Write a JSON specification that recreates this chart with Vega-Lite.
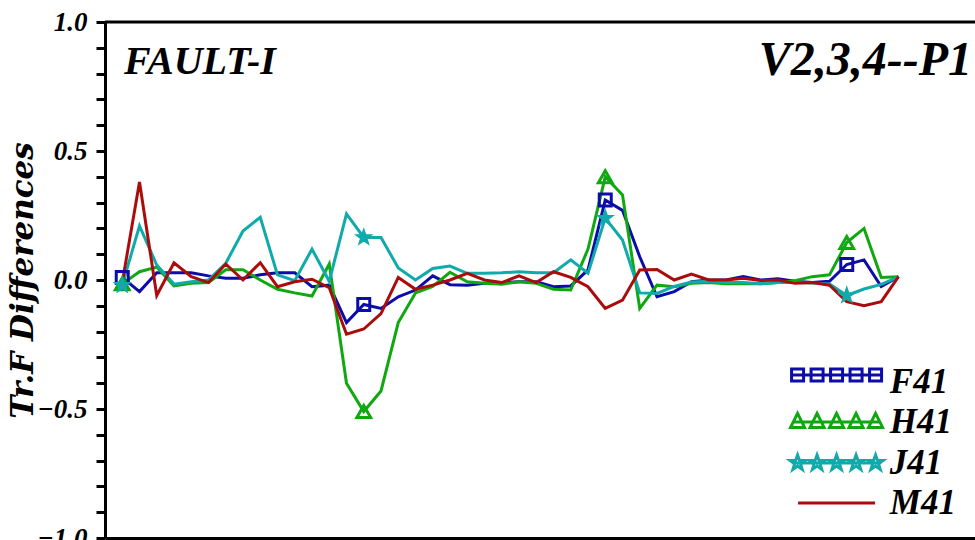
{
  "$schema": "https://vega.github.io/schema/vega-lite/v6.json",
  "width": 870,
  "height": 516,
  "autosize": {"type": "none"},
  "padding": {"left": 105, "top": 22, "right": 0, "bottom": 2},
  "background": "white",
  "config": {"view": {"stroke": null}},
  "datasets": {
    "d": [
      {"n": 1, "F41": 0.01, "H41": -0.015, "J41": -0.02, "M41": -0.01},
      {"n": 2, "F41": -0.045, "H41": 0.032, "J41": 0.21, "M41": 0.38},
      {"n": 3, "F41": 0.028, "H41": 0.05, "J41": 0.058, "M41": -0.06},
      {"n": 4, "F41": 0.028, "H41": -0.023, "J41": -0.016, "M41": 0.067},
      {"n": 5, "F41": 0.028, "H41": -0.013, "J41": -0.007, "M41": 0.013},
      {"n": 6, "F41": 0.016, "H41": -0.01, "J41": 0.0, "M41": -0.01},
      {"n": 7, "F41": 0.007, "H41": 0.04, "J41": 0.065, "M41": 0.062},
      {"n": 8, "F41": 0.007, "H41": 0.04, "J41": 0.19, "M41": 0.0},
      {"n": 9, "F41": 0.02, "H41": 0.0, "J41": 0.243, "M41": 0.067},
      {"n": 10, "F41": 0.028, "H41": -0.036, "J41": 0.02, "M41": -0.026},
      {"n": 11, "F41": 0.028, "H41": -0.05, "J41": -0.003, "M41": -0.007},
      {"n": 12, "F41": -0.026, "H41": -0.062, "J41": 0.12, "M41": 0.003},
      {"n": 13, "F41": -0.02, "H41": 0.062, "J41": -0.005, "M41": -0.03},
      {"n": 14, "F41": -0.165, "H41": -0.4, "J41": 0.256, "M41": -0.21},
      {"n": 15, "F41": -0.095, "H41": -0.51, "J41": 0.165, "M41": -0.19},
      {"n": 16, "F41": -0.11, "H41": -0.43, "J41": 0.165, "M41": -0.13},
      {"n": 17, "F41": -0.065, "H41": -0.165, "J41": 0.047, "M41": 0.01},
      {"n": 18, "F41": -0.039, "H41": -0.05, "J41": 0.0, "M41": -0.036},
      {"n": 19, "F41": 0.016, "H41": -0.025, "J41": 0.045, "M41": -0.02},
      {"n": 20, "F41": -0.018, "H41": 0.03, "J41": 0.054, "M41": 0.0},
      {"n": 21, "F41": -0.02, "H41": -0.007, "J41": 0.026, "M41": 0.026},
      {"n": 22, "F41": -0.013, "H41": -0.013, "J41": 0.026, "M41": 0.0},
      {"n": 23, "F41": -0.01, "H41": -0.016, "J41": 0.028, "M41": -0.01},
      {"n": 24, "F41": -0.007, "H41": -0.007, "J41": 0.032, "M41": 0.016},
      {"n": 25, "F41": -0.007, "H41": -0.013, "J41": 0.028, "M41": -0.01},
      {"n": 26, "F41": -0.026, "H41": -0.036, "J41": 0.028, "M41": 0.032},
      {"n": 27, "F41": -0.023, "H41": -0.039, "J41": 0.078, "M41": 0.01},
      {"n": 28, "F41": 0.039, "H41": 0.12, "J41": 0.026, "M41": -0.026},
      {"n": 29, "F41": 0.31, "H41": 0.4, "J41": 0.24, "M41": -0.11},
      {"n": 30, "F41": 0.27, "H41": 0.33, "J41": 0.155, "M41": -0.078},
      {"n": 31, "F41": 0.09, "H41": -0.11, "J41": -0.05, "M41": 0.039},
      {"n": 32, "F41": -0.065, "H41": -0.02, "J41": -0.052, "M41": 0.041},
      {"n": 33, "F41": -0.045, "H41": -0.026, "J41": -0.025, "M41": 0.0},
      {"n": 34, "F41": -0.007, "H41": -0.013, "J41": -0.008, "M41": 0.023},
      {"n": 35, "F41": 0.0, "H41": -0.01, "J41": -0.005, "M41": 0.0},
      {"n": 36, "F41": 0.0, "H41": -0.015, "J41": -0.01, "M41": 0.0},
      {"n": 37, "F41": 0.013, "H41": -0.015, "J41": -0.01, "M41": 0.007},
      {"n": 38, "F41": 0.0, "H41": -0.015, "J41": -0.015, "M41": -0.002},
      {"n": 39, "F41": 0.005, "H41": -0.01, "J41": -0.01, "M41": 0.0},
      {"n": 40, "F41": -0.005, "H41": -0.003, "J41": -0.01, "M41": -0.013},
      {"n": 41, "F41": -0.01, "H41": 0.013, "J41": -0.012, "M41": -0.01},
      {"n": 42, "F41": -0.005, "H41": 0.02, "J41": -0.015, "M41": -0.02},
      {"n": 43, "F41": 0.06, "H41": 0.145, "J41": -0.06, "M41": -0.084},
      {"n": 44, "F41": 0.078, "H41": 0.2, "J41": -0.035, "M41": -0.1},
      {"n": 45, "F41": -0.025, "H41": 0.01, "J41": -0.017, "M41": -0.084},
      {"n": 46, "F41": 0.013, "H41": 0.013, "J41": 0.012, "M41": 0.013}
    ]
  },
  "data": {"name": "d"},
  "layer": [
    {
      "data": {"values": [{}]},
      "mark": {"type": "rule", "strokeWidth": 3, "color": "black"},
      "encoding": {"y": {"datum": 1, "type": "quantitative", "scale": {"domain": [-1, 1], "nice": false}}}
    },
    {
      "transform": [{"fold": ["F41", "H41", "J41", "M41"], "as": ["series", "value"]}],
      "mark": {"type": "line", "strokeWidth": 3},
      "encoding": {
        "x": {
          "field": "n", "type": "quantitative",
          "scale": {"domain": [0, 50.435], "nice": false, "zero": false},
          "axis": {"domain": true, "domainWidth": 3, "domainColor": "black", "ticks": false, "labels": false, "grid": false, "title": null}
        },
        "y": {
          "field": "value", "type": "quantitative",
          "scale": {"domain": [-1, 1], "nice": false},
          "axis": {
            "tickCount": 20,
            "labelExpr": "abs(datum.value*2 - round(datum.value*2)) < 0.01 ? format(datum.value, '.1f') : ''",
            "grid": false,
            "domain": true, "domainWidth": 3, "domainColor": "black",
            "ticks": true, "tickWidth": 3, "tickColor": "black", "tickSize": 9,
            "labelFont": "Liberation Serif", "labelFontSize": 27, "labelFontWeight": "bold", "labelFontStyle": "italic",
            "labelColor": "black", "labelPadding": 9, "labelFlush": false, "labelOverlap": false,
            "title": "Tr.F   Differences",
            "titleFont": "DejaVu Serif", "titleFontSize": 31, "titleFontWeight": "bold", "titleFontStyle": "italic",
            "titleColor": "black", "titleX": -82, "titleY": 258, "titleAngle": 270, "titleAlign": "center", "titleBaseline": "middle"
          }
        },
        "color": {
          "field": "series", "type": "nominal",
          "scale": {"domain": ["F41", "H41", "J41", "M41"], "range": ["#0c0ca8", "#10a810", "#10aaaa", "#aa0c0c"]},
          "legend": null
        }
      }
    },
    {
      "transform": [{"filter": "datum.n == 1 || datum.n == 15 || datum.n == 29 || datum.n == 43"}],
      "mark": {"type": "point", "shape": "square", "size": 144, "filled": false, "strokeWidth": 3, "color": "#0c0ca8", "opacity": 1},
      "encoding": {"x": {"field": "n", "type": "quantitative"}, "y": {"field": "F41", "type": "quantitative"}}
    },
    {
      "transform": [{"filter": "datum.n == 1 || datum.n == 15 || datum.n == 29 || datum.n == 43"}],
      "mark": {"type": "point", "shape": "triangle-up", "size": 190, "filled": false, "strokeWidth": 3, "color": "#10a810", "opacity": 1},
      "encoding": {"x": {"field": "n", "type": "quantitative"}, "y": {"field": "H41", "type": "quantitative"}}
    },
    {
      "transform": [{"filter": "datum.n == 1 || datum.n == 15 || datum.n == 29 || datum.n == 43"}],
      "mark": {"type": "point", "shape": "M0,-1L0.235,-0.324L0.951,-0.309L0.38,0.124L0.588,0.809L0,0.4L-0.588,0.809L-0.38,0.124L-0.951,-0.309L-0.235,-0.324Z", "size": 256, "filled": true, "strokeWidth": 1.5, "stroke": "#10aaaa", "color": "#10aaaa", "opacity": 1},
      "encoding": {"x": {"field": "n", "type": "quantitative"}, "y": {"field": "J41", "type": "quantitative"}}
    },
    {
      "data": {"values": [{}]},
      "mark": {"type": "point", "size": 400, "filled": false, "strokeWidth": 3, "color": "#0c0ca8", "opacity": 1,
        "shape": "M-4.35,0L4.35,0M-4.5,-0.6L-3.3,-0.6L-3.3,0.6L-4.5,0.6ZM-2.55,-0.6L-1.35,-0.6L-1.35,0.6L-2.55,0.6ZM-0.6,-0.6L0.6,-0.6L0.6,0.6L-0.6,0.6ZM1.35,-0.6L2.55,-0.6L2.55,0.6L1.35,0.6ZM3.3,-0.6L4.5,-0.6L4.5,0.6L3.3,0.6Z"},
      "encoding": {"x": {"datum": 42.41, "type": "quantitative"}, "y": {"datum": -0.368, "type": "quantitative"}}
    },
    {
      "data": {"values": [{}]},
      "mark": {"type": "point", "size": 400, "filled": false, "strokeWidth": 3, "color": "#10a810", "opacity": 1,
        "shape": "M-4.35,0L4.35,0M-3.9,-0.85L-3.2,0.55L-4.6,0.55ZM-1.95,-0.85L-1.25,0.55L-2.65,0.55ZM0,-0.85L0.7,0.55L-0.7,0.55ZM1.95,-0.85L2.65,0.55L1.25,0.55ZM3.9,-0.85L4.6,0.55L3.2,0.55Z"},
      "encoding": {"x": {"datum": 42.41, "type": "quantitative"}, "y": {"datum": -0.55, "type": "quantitative"}}
    },
    {
      "data": {"values": [{}]},
      "mark": {"type": "point", "size": 400, "filled": false, "strokeWidth": 3, "color": "#10aaaa", "opacity": 1,
        "shape": "M-4.4,0L4.4,0M-3.9,-0.8L-3.71,-0.26L-3.14,-0.25L-3.6,0.1L-3.43,0.65L-3.9,0.32L-4.37,0.65L-4.2,0.1L-4.66,-0.25L-4.09,-0.26ZM-1.95,-0.8L-1.76,-0.26L-1.19,-0.25L-1.65,0.1L-1.48,0.65L-1.95,0.32L-2.42,0.65L-2.25,0.1L-2.71,-0.25L-2.14,-0.26ZM0,-0.8L0.19,-0.26L0.76,-0.25L0.3,0.1L0.47,0.65L0,0.32L-0.47,0.65L-0.3,0.1L-0.76,-0.25L-0.19,-0.26ZM1.95,-0.8L2.14,-0.26L2.71,-0.25L2.25,0.1L2.42,0.65L1.95,0.32L1.48,0.65L1.65,0.1L1.19,-0.25L1.76,-0.26ZM3.9,-0.8L4.09,-0.26L4.66,-0.25L4.2,0.1L4.37,0.65L3.9,0.32L3.43,0.65L3.6,0.1L3.14,-0.25L3.71,-0.26Z"},
      "encoding": {"x": {"datum": 42.41, "type": "quantitative"}, "y": {"datum": -0.709, "type": "quantitative"}}
    },
    {
      "data": {"values": [{}]},
      "mark": {"type": "point", "size": 400, "filled": false, "strokeWidth": 3, "color": "#aa0c0c", "opacity": 1,
        "shape": "M-3.85,0L3.85,0"},
      "encoding": {"x": {"datum": 42.41, "type": "quantitative"}, "y": {"datum": -0.864, "type": "quantitative"}}
    },
    {
      "data": {"values": [{}]},
      "mark": {"type": "text", "text": "F41", "align": "left", "baseline": "alphabetic", "font": "Liberation Serif", "fontSize": 35, "fontWeight": "bold", "fontStyle": "italic", "color": "black"},
      "encoding": {"x": {"datum": 45.5, "type": "quantitative"}, "y": {"datum": -0.438, "type": "quantitative"}}
    },
    {
      "data": {"values": [{}]},
      "mark": {"type": "text", "text": "H41", "align": "left", "baseline": "alphabetic", "font": "Liberation Serif", "fontSize": 35, "fontWeight": "bold", "fontStyle": "italic", "color": "black"},
      "encoding": {"x": {"datum": 45.5, "type": "quantitative"}, "y": {"datum": -0.593, "type": "quantitative"}}
    },
    {
      "data": {"values": [{}]},
      "mark": {"type": "text", "text": "J41", "align": "left", "baseline": "alphabetic", "font": "Liberation Serif", "fontSize": 35, "fontWeight": "bold", "fontStyle": "italic", "color": "black"},
      "encoding": {"x": {"datum": 45.5, "type": "quantitative"}, "y": {"datum": -0.752, "type": "quantitative"}}
    },
    {
      "data": {"values": [{}]},
      "mark": {"type": "text", "text": "M41", "align": "left", "baseline": "alphabetic", "font": "Liberation Serif", "fontSize": 35, "fontWeight": "bold", "fontStyle": "italic", "color": "black"},
      "encoding": {"x": {"datum": 45.5, "type": "quantitative"}, "y": {"datum": -0.907, "type": "quantitative"}}
    },
    {
      "data": {"values": [{}]},
      "mark": {"type": "text", "text": "FAULT-I", "align": "left", "baseline": "alphabetic", "font": "Liberation Serif", "fontSize": 40, "fontWeight": "bold", "fontStyle": "italic", "color": "black"},
      "encoding": {"x": {"datum": 1.1, "type": "quantitative"}, "y": {"datum": 0.798, "type": "quantitative"}}
    },
    {
      "data": {"values": [{}]},
      "mark": {"type": "text", "text": "V2,3,4--P1", "align": "right", "baseline": "alphabetic", "font": "Liberation Serif", "fontSize": 48, "fontWeight": "bold", "fontStyle": "italic", "color": "black"},
      "encoding": {"x": {"datum": 50.26, "type": "quantitative"}, "y": {"datum": 0.795, "type": "quantitative"}}
    }
  ]
}
